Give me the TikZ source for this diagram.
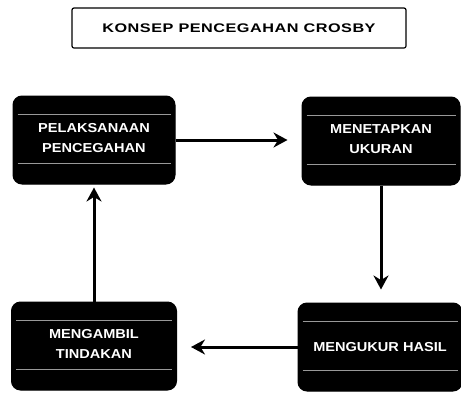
\documentclass[tikz,border=0pt]{standalone}
\usepackage{fontspec}
\setmainfont{Liberation Sans}
\newfontfamily\capsfont[FakeStretch=1.12]{Liberation Sans}
\newfontfamily\headfont[FakeStretch=1.3,LetterSpace=4]{Liberation Sans}
\usetikzlibrary{arrows.meta}
\begin{document}
\begin{tikzpicture}[x=1pt,y=-1pt,
  stepbox/.style={draw=black,fill=black,rounded corners=9pt,line width=1pt,
    minimum width=#1,minimum height=88pt,inner sep=0pt},
  boxtext/.style={text=white,font=\capsfont\bfseries\fontsize{13}{20}\selectfont,align=center},
  titlebox/.style={draw=black,line width=1.2pt,rounded corners=2pt,minimum width=334pt,minimum height=40pt,
    font=\headfont\bfseries\fontsize{12.5}{14}\selectfont},
  flow/.style={line width=3pt,-{Stealth[length=14pt,width=15pt]}},
  band/.style={draw=white!60!black,line width=0.7pt}]
\useasboundingbox (0,0) rectangle (461,397);

\node[titlebox] (title) at (239,28) {KONSEP PENCEGAHAN CROSBY};

\node[stepbox=162pt] (tl) at (94,140) {};
\node[stepbox=158pt] (tr) at (381,141) {};
\node[stepbox=164pt] (br) at (380,347) {};
\node[stepbox=165pt] (bl) at (94,346) {};

% thin light bands framing the text of each box
\foreach \b in {tl,tr,br,bl}{
  \draw[band] ([xshift=5pt,yshift=26pt]\b.west) -- ([xshift=-5pt,yshift=26pt]\b.east);
  \draw[band] ([xshift=5pt,yshift=-23pt]\b.west) -- ([xshift=-5pt,yshift=-23pt]\b.east);
}

\node[boxtext] at ([yshift=2pt]tl.center) {PELAKSANAAN\\PENCEGAHAN};
\node[boxtext] at ([yshift=2pt]tr.center) {MENETAPKAN\\UKURAN};
\node[boxtext] at (br) {MENGUKUR HASIL};
\node[boxtext] at ([yshift=2pt]bl.center) {MENGAMBIL\\TINDAKAN};

\draw[flow,shorten >=14pt] (tl.east) -- (tl.east -| tr.west);
\draw[flow,shorten >=13pt] (tr.south) -- (tr.south |- br.north);
\draw[flow,shorten >=14pt] (br.west) -- (br.west -| bl.east);
\draw[flow,shorten >=3pt] (bl.north) -- (bl.north |- tl.south);
\end{tikzpicture}
\end{document}
